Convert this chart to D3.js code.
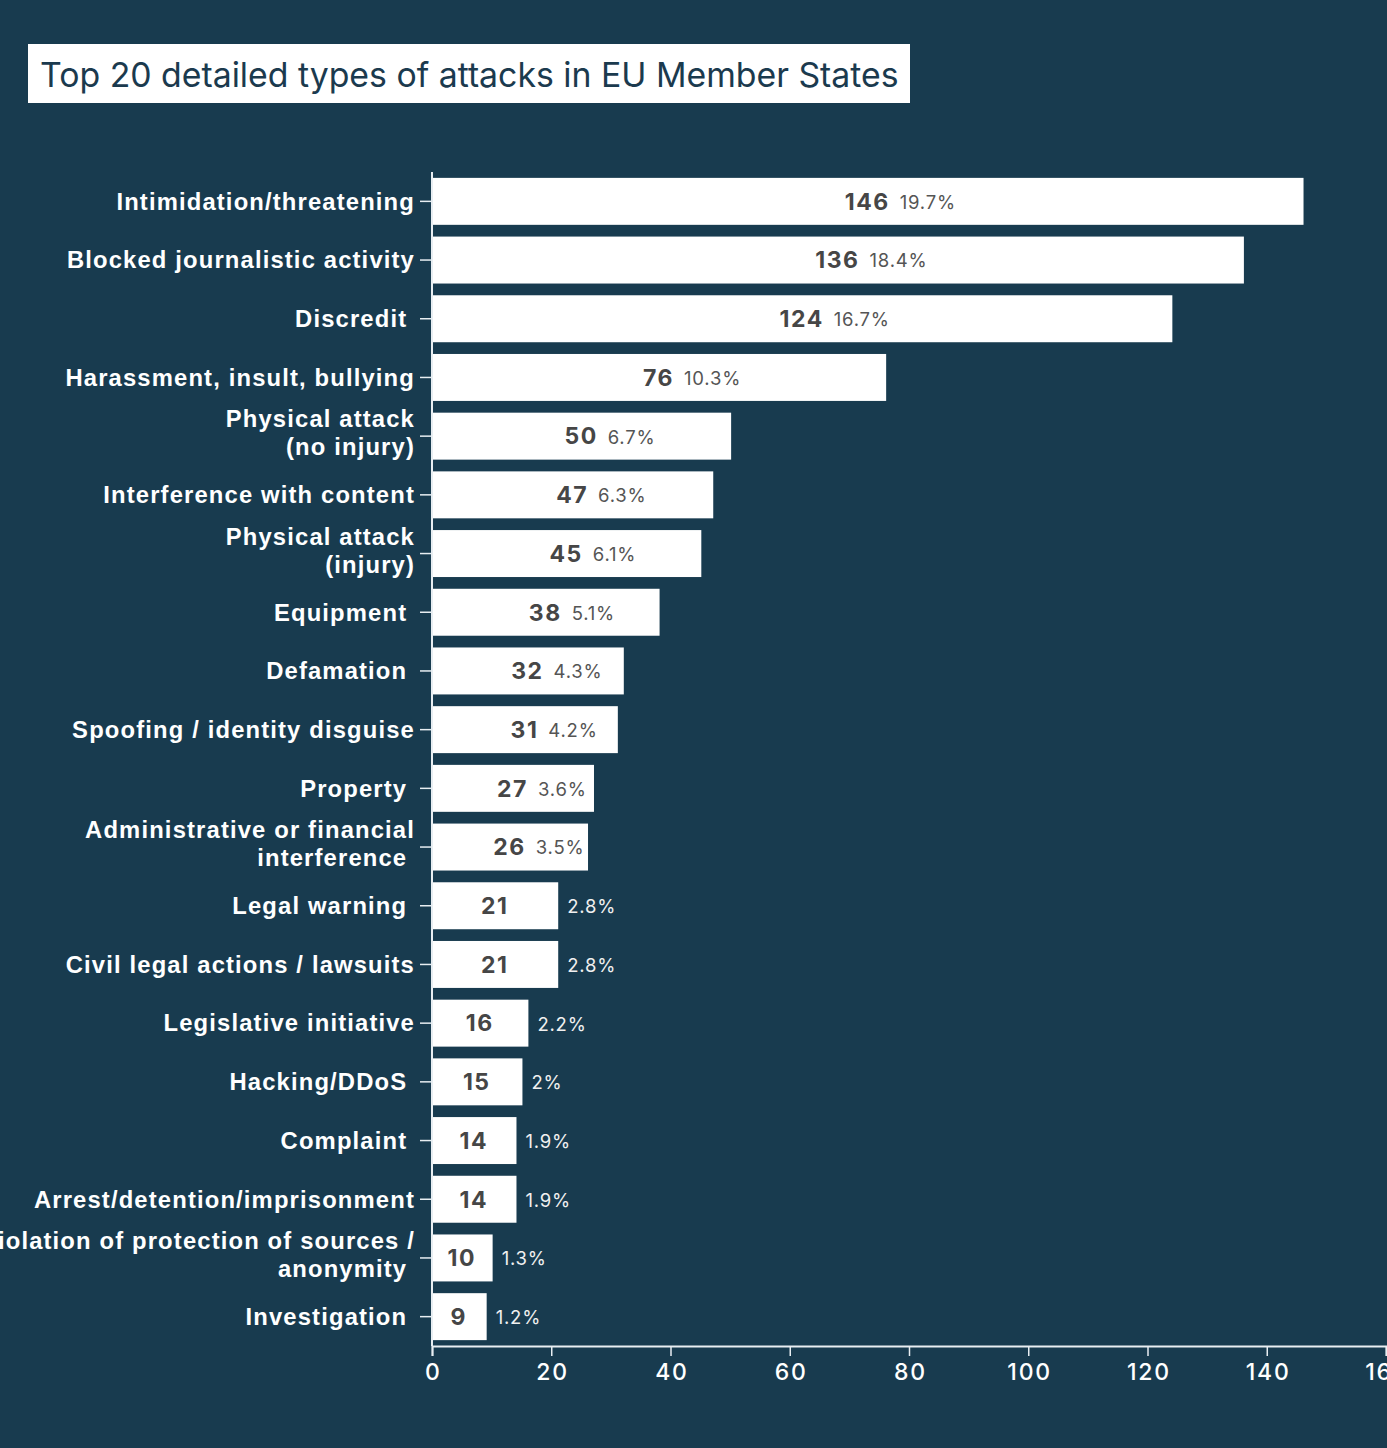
<!DOCTYPE html>
<html><head><meta charset="utf-8">
<script src="https://cdn.jsdelivr.net/npm/d3@7"></script>
<style>
html,body{margin:0;padding:0;background:#183b4f;}
svg{display:block;font-family:Inter,"Noto Sans",sans-serif;}
</style></head>
<body>
<svg id="chart" width="1387" height="1448"></svg>
<script>
const categories = [
  ["Intimidation/threatening"],
  ["Blocked journalistic activity"],
  ["Discredit "],
  ["Harassment, insult, bullying"],
  ["Physical attack","(no injury)"],
  ["Interference with content"],
  ["Physical attack","(injury)"],
  ["Equipment "],
  ["Defamation "],
  ["Spoofing / identity disguise"],
  ["Property "],
  ["Administrative or financial","interference "],
  ["Legal warning "],
  ["Civil legal actions / lawsuits"],
  ["Legislative initiative"],
  ["Hacking/DDoS "],
  ["Complaint "],
  ["Arrest/detention/imprisonment"],
  ["Violation of protection of sources /","anonymity "],
  ["Investigation "]
];
const values = [146,136,124,76,50,47,45,38,32,31,27,26,21,21,16,15,14,14,10,9];
const percents = ["19.7%","18.4%","16.7%","10.3%","6.7%","6.3%","6.1%","5.1%","4.3%","4.2%","3.6%","3.5%","2.8%","2.8%","2.2%","2%","1.9%","1.9%","1.3%","1.2%"];
const xTicks = [0,20,40,60,80,100,120,140,160];
const title = "Top 20 detailed types of attacks in EU Member States";

const svg = d3.select("#chart");

// title box
const tg = svg.append("g");
tg.append("rect").attr("x",28).attr("y",44).attr("width",882).attr("height",59).attr("fill","#fff");
tg.append("text").attr("x",40).attr("y",87).attr("font-size",33.8).attr("fill","#1b3a4e").text(title);

const x = d3.scaleLinear().domain([0,160]).range([432,1386]);
const idx = d3.range(categories.length);
const y = d3.scaleBand().domain(idx).range([172,1346]).paddingInner(0.2).paddingOuter(0.1);

// bars
svg.append("g").selectAll("rect").data(idx).join("rect")
  .attr("x", x(0)+1).attr("y", i=>y(i))
  .attr("width", i=>x(values[i])-x(0)).attr("height", y.bandwidth())
  .attr("fill","#fff");

// y axis
const yAxis = svg.append("g").attr("transform",`translate(${x(0)},0)`)
  .call(d3.axisLeft(y).tickSize(12).tickFormat(""));
yAxis.select(".domain").attr("stroke","#e8eef2").attr("stroke-width",2).attr("d",`M0,172V1346`);
yAxis.selectAll(".tick line").attr("stroke","#e8eef2").attr("stroke-width",1.5);
yAxis.selectAll(".tick").each(function(i){
  const lines = categories[i];
  const t = d3.select(this).append("text")
    .attr("fill","#fff").attr("font-size",23.8).attr("font-weight",600)
    .attr("letter-spacing",1.15)
    .attr("text-anchor","end").style("white-space","pre");
  const lh = 28;
  lines.forEach((l,k)=>{
    const off = lines.length>1 ? (k-(lines.length-1)/2)*lh - 3 : 0;
    t.append("tspan").attr("x",-17).attr("y",off).attr("dy","0.35em").text(l);
  });
});

// x axis
const xAxis = svg.append("g").attr("transform","translate(0,1346)")
  .call(d3.axisBottom(x).tickValues(xTicks).tickSize(10).tickPadding(8));
xAxis.select(".domain").attr("stroke","#e8eef2").attr("stroke-width",2);
xAxis.selectAll(".tick line").attr("stroke","#e8eef2").attr("stroke-width",1.5);
xAxis.selectAll(".tick text").attr("fill","#fff").attr("font-size",23).attr("font-weight",500)
  .attr("letter-spacing",1.8).attr("dx",0.9)
  .attr("font-family","Inter,'Noto Sans',sans-serif");

// value labels
const lg = svg.append("g");
idx.forEach(i=>{
  const cx = (x(0)+x(values[i]))/2;
  const cy = y(i)+y.bandwidth()/2;
  const num = lg.append("text").attr("x",cx).attr("y",cy).attr("dy","0.36em")
    .attr("text-anchor","middle").attr("font-size",23).attr("font-weight",700)
    .attr("letter-spacing",1.5)
    .attr("fill","#464646").text(values[i]);
  const nb = num.node().getBBox();
  const pct = lg.append("text").attr("y",cy).attr("dy","0.4em")
    .attr("font-size",18.5).attr("font-weight",400).attr("letter-spacing",0.8).text(percents[i]);
  const pw = pct.node().getComputedTextLength();
  const inX = nb.x + nb.width + 10;
  if (inX + pw <= x(values[i]) + 2) {
    pct.attr("x",inX).attr("fill","#555");
  } else {
    pct.attr("x",x(values[i])+10).attr("fill","#f0f0f0");
  }
});
</script>
</body></html>
